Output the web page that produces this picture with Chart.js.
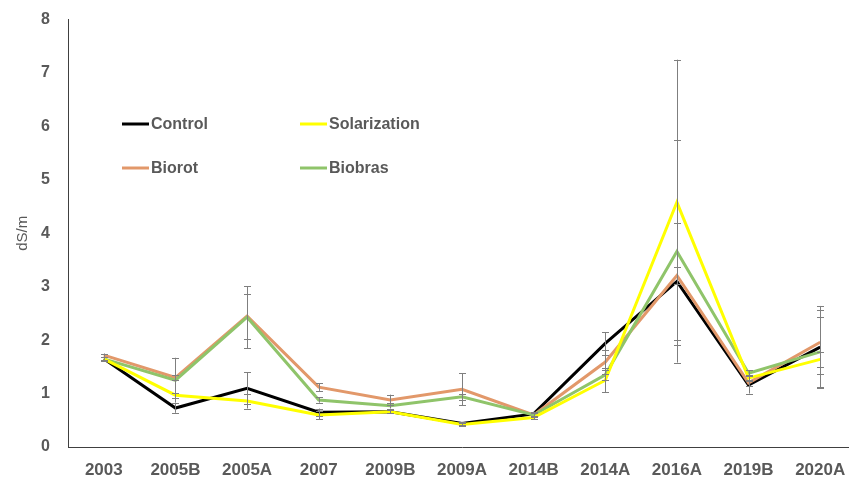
<!DOCTYPE html>
<html>
<head>
<meta charset="utf-8">
<script src="https://cdn.jsdelivr.net/npm/chart.js@4/dist/chart.umd.min.js"></script>
<style>
    html, body { margin: 0; padding: 0; background: #fff; overflow: hidden; }
    #wrap { position: relative; width: 862px; height: 480px; }
</style>
</head>
<body>
<div id="wrap"><canvas id="ecChart"></canvas></div>
<script>
// Sampling seasons and mean EC (dS/m) for each treatment
const seasons = ['2003', '2005B', '2005A', '2007', '2009B', '2009A', '2014B', '2014A', '2016A', '2019B', '2020A'];

const control      = [1.65, 0.73, 1.10, 0.65, 0.66, 0.44, 0.62, 1.94, 3.10, 1.16, 1.87];
const solarization = [1.65, 0.97, 0.86, 0.60, 0.66, 0.42, 0.55, 1.25, 4.58, 1.29, 1.64];
const biorot       = [1.72, 1.30, 2.45, 1.12, 0.88, 1.08, 0.60, 1.59, 3.21, 1.20, 1.96];
const biobras      = [1.65, 1.25, 2.43, 0.88, 0.77, 0.94, 0.60, 1.35, 3.66, 1.38, 1.78];

// Standard deviations (+/-) shown as error bars
const controlErr      = [0.04, 0.09, 0.30, 0.07, 0.03, 0.03, 0.04, 0.21, 1.10, 0.16, 0.77];
const solarizationErr = [0.03, 0.05, 0.14, 0.08, 0.03, 0.03, 0.03, 0.22, 2.67, 0.06, 0.14];
const biorotErr       = [0.03, 0.05, 0.42, 0.07, 0.10, 0.30, 0.04, 0.22, 0.15, 0.05, 0.60];
const biobrasErr      = [0.03, 0.42, 0.58, 0.05, 0.05, 0.06, 0.04, 0.10, 2.08, 0.06, 0.65];

const yTicks = [0, 1, 2, 3, 4, 5, 6, 7, 8];

const TEXT_GREY = '#595959';

function series(label, data, err, color, order) {
    return {
        label: label,
        data: data,
        errors: err,
        borderColor: color,
        backgroundColor: color,
        borderWidth: 3,
        pointRadius: 0,
        tension: 0,
        fill: false,
        order: order
    };
}

// Vertical error bars with small caps
const errorBars = {
    id: 'errorBars',
    afterDatasetsDraw(chart) {
        const ctx = chart.ctx;
        const y = chart.scales.y;
        ctx.save();
        ctx.strokeStyle = '#7f7f7f';
        ctx.lineWidth = 1;
        chart.data.datasets.forEach((ds, i) => {
            const meta = chart.getDatasetMeta(i);
            meta.data.forEach((pt, j) => {
                const e = ds.errors[j];
                const top = y.getPixelForValue(ds.data[j] + e);
                const bot = y.getPixelForValue(ds.data[j] - e);
                const x = Math.round(pt.x) + 0.5;
                ctx.beginPath();
                ctx.moveTo(x, top);
                ctx.lineTo(x, bot);
                ctx.moveTo(x - 3.5, Math.round(top) + 0.5);
                ctx.lineTo(x + 3.5, Math.round(top) + 0.5);
                ctx.moveTo(x - 3.5, Math.round(bot) + 0.5);
                ctx.lineTo(x + 3.5, Math.round(bot) + 0.5);
                ctx.stroke();
            });
        });
        ctx.restore();
    }
};

// Two-column legend inside the plot
const insideLegend = {
    id: 'insideLegend',
    afterDraw(chart) {
        const ctx = chart.ctx;
        const spots = [
            { i: 0, x: 122, y: 124 },
            { i: 1, x: 300, y: 124 },
            { i: 2, x: 122, y: 168 },
            { i: 3, x: 300, y: 168 }
        ];
        ctx.save();
        ctx.font = 'bold 16px "Liberation Sans", Arial, sans-serif';
        ctx.textBaseline = 'middle';
        ctx.fillStyle = TEXT_GREY;
        spots.forEach(s => {
            const ds = chart.data.datasets[s.i];
            ctx.strokeStyle = ds.borderColor;
            ctx.lineWidth = 3;
            ctx.beginPath();
            ctx.moveTo(s.x, s.y);
            ctx.lineTo(s.x + 27, s.y);
            ctx.stroke();
            ctx.fillText(ds.label, s.x + 29, s.y + 1);
        });
        ctx.restore();
    }
};

const ctx = document.getElementById('ecChart').getContext('2d');

new Chart(ctx, {
    type: 'line',
    data: {
        labels: seasons,
        datasets: [
            series('Control', control, controlErr, '#000000', 3),
            series('Solarization', solarization, solarizationErr, '#ffff00', 0),
            series('Biorot', biorot, biorotErr, '#e2986a', 2),
            series('Biobras', biobras, biobrasErr, '#8fc46a', 1)
        ]
    },
    options: {
        responsive: true,
        maintainAspectRatio: false,
        animation: false,
        layout: {
            padding: { top: 13, right: 6, left: 0, bottom: 0 }
        },
        scales: {
            x: {
                offset: true,
                grid: { display: false },
                border: { display: true, color: '#404040', width: 1 },
                ticks: {
                    color: TEXT_GREY,
                    padding: 5,
                    maxRotation: 0,
                    autoSkip: false,
                    font: { family: '"Liberation Sans", Arial, sans-serif', size: 17, weight: 'bold' }
                },
                afterFit: function (scale) {
                    scale.height = 33;
                }
            },
            y: {
                min: 0,
                max: 8,
                grid: { display: false },
                border: { display: true, color: '#404040', width: 1 },
                afterBuildTicks: function (scale) {
                    scale.ticks = yTicks.map(v => ({ value: v }));
                },
                ticks: {
                    color: TEXT_GREY,
                    padding: 10,
                    font: { family: '"Liberation Sans", Arial, sans-serif', size: 16, weight: 'bold' }
                },
                title: {
                    display: true,
                    text: 'dS/m',
                    color: TEXT_GREY,
                    padding: { top: 14, bottom: 0 },
                    font: { family: '"Liberation Sans", Arial, sans-serif', size: 15 }
                },
                afterFit: function (scale) {
                    scale.width = 68;
                }
            }
        },
        plugins: {
            legend: { display: false },
            tooltip: { enabled: false }
        }
    },
    plugins: [errorBars, insideLegend]
});
</script>
</body>
</html>
